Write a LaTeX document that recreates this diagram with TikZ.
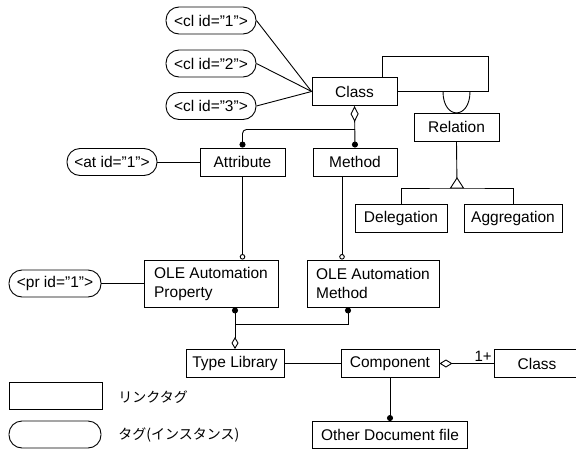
\documentclass[tikz,border=0pt]{standalone}
\usepackage{fontspec}
\setmainfont{Liberation Sans}
\newfontfamily\jpfont{Noto Sans CJK JP}
\usepackage{tikz}
\usetikzlibrary{arrows.meta}

\begin{document}
\begin{tikzpicture}[x=1pt,y=-1pt,line width=0.9pt,
  font=\fontsize{15.5}{19}\selectfont,
  box/.style={draw,minimum height=28pt,inner sep=2pt},
  tag/.style={draw,rounded corners=13pt,minimum height=27pt,minimum width=90pt,inner sep=2pt},
  dot/.style={-{Circle[length=6pt]}},
  ring/.style={-{Circle[open,length=5.5pt]}}]
\useasboundingbox (0,0) rectangle (576,450);
\node[tag] (cla) at (211,20.5) {<cl id="1">};
\node[tag] (clb) at (211,63.5) {<cl id="2">};
\node[tag] (clc) at (211,106) {<cl id="3">};
\node[box,minimum width=85pt] (cls) at (354.5,91.5) {Class};
\node[box,minimum width=85pt] (rel) at (456.5,127) {Relation};
\node[box,minimum width=92pt] (dele) at (401,218.5) {Delegation};
\node[box,minimum width=98pt] (aggr) at (513,218.5) {Aggregation};
\node[tag] (atid) at (112,162) {<at id="1">};
\node[box,minimum width=85pt] (attr) at (242.5,162) {Attribute};
\node[box,minimum width=84pt] (meth) at (355,162) {Method};
\node[box,minimum width=134pt,minimum height=47pt,align=left] (oprop) at (211,283.5) {OLE Automation\\Property};
\node[box,minimum width=132pt,minimum height=47pt,align=left] (ometh) at (373,283.5) {OLE Automation\\Method};
\node[tag,minimum width=92pt] (prid) at (55,283.5) {<pr id="1">};
\node[box,minimum width=98pt] (tlib) at (235,363.5) {Type Library};
\node[box,minimum width=98pt] (comp) at (390,363.5) {Component};
\node[box,minimum width=86pt] (clsb) at (537,363.5) {Class};
\node[box,minimum width=155pt,minimum height=27pt] (odoc) at (390,435) {Other Document file};
\node[box,minimum width=93pt,minimum height=27pt] (lgbox) at (55.5,395.5) {};
\node[tag,minimum width=92pt] (lgtag) at (55,434.5) {};
\node[anchor=west,inner sep=0pt,font=\fontsize{14}{16}\selectfont\jpfont] (lgboxtxt) at (118,397) {リンクタグ};
\node[anchor=west,inner sep=0pt,font=\fontsize{14}{16}\selectfont\jpfont] (lgtagtxt) at (118,435) {タグ(インスタンス)};
\draw (cla.east) -- (cls.west);
\draw (clb.east) -- (cls.west);
\draw (clc.east) -- (cls.west);
\coordinate (lp) at (488,56.5);
\draw ([xshift=-15pt]cls.north east) |- (lp) |- (cls.east);
\coordinate (ra) at (443,91.5);
\coordinate (rb) at (470,91.5);
\draw (ra) .. controls (443,120) and (470,120) .. (rb);
\coordinate (gen) at (457,188);
\draw (rel.south) -- (gen);
\draw (dele.north) |- (gen) -| (aggr.north);
\draw[fill=white] (gen) -- ++(-6.5,0) -- ++(6.5,-10) -- ++(6.5,10) -- cycle;
\draw[{Diamond[open,length=16pt,width=8pt]}-{Circle[length=6pt]}] (cls.south) -- (meth.north);
\coordinate (cm) at (355,129.5);
\draw[dot,rounded corners=4pt] (cm) -| (attr.north);
\draw (atid) -- (attr);
\draw[ring] (attr.south) -- (attr.south |- oprop.north);
\draw[ring] ([xshift=-13pt]meth.south) -- ([xshift=-13pt]meth.south |- ometh.north);
\draw (prid) -- (oprop);
\coordinate (tj) at (235,324);
\draw[{Circle[length=6pt]}-{Diamond[open,length=12pt,width=7pt]}] ([xshift=24pt]oprop.south) -- (tlib.north);
\draw[{Circle[length=6pt]}-] ([xshift=-25pt]ometh.south) |- (tj);
\draw (tlib) -- (comp);
\draw[{Diamond[open,length=13pt,width=8pt]}-] (comp) -- node[pos=1,above left,inner sep=1.5pt,font=\fontsize{15}{16}\selectfont] {1+} (clsb);
\draw[dot] (comp) -- (odoc);
\end{tikzpicture}
\end{document}
